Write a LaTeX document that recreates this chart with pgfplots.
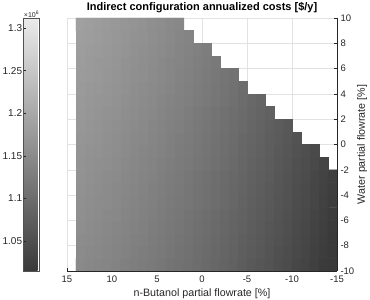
\documentclass[border=0pt]{standalone}
\usepackage{fontspec}
\setmainfont{Liberation Sans}
\usepackage{pgfplots}
\pgfplotsset{compat=1.18}
\definecolor{axisdark}{RGB}{38,38,38}
\definecolor{gridgray}{RGB}{226,226,226}
\begin{document}
\begin{tikzpicture}
\useasboundingbox (-67pt,-29pt) rectangle (303pt,271pt);
\begin{axis}[
  at={(0pt,0pt)}, anchor=south west,
  scale only axis, width=270pt, height=253pt,
  xmin=-15, xmax=15, ymin=-10, ymax=10,
  x dir=reverse,
  axis x line*=bottom, axis y line*=right,
  axis line style={axisdark, line width=0.5pt},
  xtick={-15,-10,...,15}, ytick={-10,-8,...,10},
  tick align=inside, major tick length=3pt,
  tick style={axisdark, line width=0.5pt},
  grid=major, major grid style={gridgray, line width=0.5pt},
  /pgf/number format/assume math mode=true,
  tick label style={font=\fontsize{9.5}{11}\selectfont, text=axisdark},
  xticklabel style={yshift=-1.5pt},
  xlabel={n-Butanol partial flowrate [\%]},
  ylabel={Water partial flowrate [\%]},
  label style={font=\fontsize{10.7}{12}\selectfont, text=axisdark},
  xlabel style={at={(axis description cs:0.5,0)}, anchor=center, yshift=-23pt},
  ylabel style={at={(axis description cs:1,0.5)}, anchor=center, yshift=-25pt},
  every axis title shift=0pt,
  title={Indirect configuration annualized costs [\$/y]},
  title style={font=\bfseries\fontsize{11}{13}\selectfont,
    at={(axis description cs:0.5,1)}, anchor=center, yshift=10pt},
  colormap={costgray}{rgb255=(58,58,58) rgb255=(235,235,235)},
  point meta min=1.0145, point meta max=1.312,
  colorbar left,
  colorbar shift/.style={},
  colorbar style={
    at={(parent axis.north west)}, anchor=north east, xshift=-28pt,
    width=15.7pt,
    ytick={1.05,1.1,1.15,1.2,1.25,1.3},
    yticklabels={1.05,1.1,1.15,1.2,1.25,1.3},
    yticklabel pos=left, ytick pos=left,
    tick align=inside, major tick length=2.5pt,
    axis line style={axisdark!80, line width=0.5pt},
    tick style={axisdark, line width=0.5pt},
    tick label style={font=\fontsize{10}{12}\selectfont, text=axisdark},
    yticklabel style={inner sep=1pt},
    scaled y ticks=false,
    extra description/.code={
      \node[anchor=south west, inner sep=0.5pt, font=\fontsize{7}{8}\selectfont, text=axisdark]
        at (rel axis cs:0,1) {×10\textsuperscript{6}};
    },
  },
]
% annualized cost (millions of $/y) on the 1 % x 1 % grid; nan = infeasible point
\addplot[matrix plot*, mesh/cols=30, point meta=explicit, unbounded coords=jump]
table[row sep=\\, meta=z]{
x y z\\
14.5 -9.5 nan\\ 13.5 -9.5 1.148\\ 12.5 -9.5 1.145\\ 11.5 -9.5 1.142\\ 10.5 -9.5 1.139\\ 9.5 -9.5 1.136\\ 8.5 -9.5 1.132\\ 7.5 -9.5 1.128\\ 6.5 -9.5 1.125\\ 5.5 -9.5 1.121\\ 4.5 -9.5 1.117\\ 3.5 -9.5 1.112\\ 2.5 -9.5 1.108\\ 1.5 -9.5 1.104\\ 0.5 -9.5 1.099\\ -0.5 -9.5 1.094\\ -1.5 -9.5 1.089\\ -2.5 -9.5 1.084\\ -3.5 -9.5 1.079\\ -4.5 -9.5 1.073\\ -5.5 -9.5 1.067\\ -6.5 -9.5 1.062\\ -7.5 -9.5 1.056\\ -8.5 -9.5 1.050\\ -9.5 -9.5 1.044\\ -10.5 -9.5 1.037\\ -11.5 -9.5 1.031\\ -12.5 -9.5 1.024\\ -13.5 -9.5 1.017\\ -14.5 -9.5 1.010\\
14.5 -8.5 nan\\ 13.5 -8.5 1.150\\ 12.5 -8.5 1.147\\ 11.5 -8.5 1.144\\ 10.5 -8.5 1.141\\ 9.5 -8.5 1.138\\ 8.5 -8.5 1.134\\ 7.5 -8.5 1.130\\ 6.5 -8.5 1.127\\ 5.5 -8.5 1.123\\ 4.5 -8.5 1.119\\ 3.5 -8.5 1.114\\ 2.5 -8.5 1.110\\ 1.5 -8.5 1.106\\ 0.5 -8.5 1.101\\ -0.5 -8.5 1.096\\ -1.5 -8.5 1.091\\ -2.5 -8.5 1.086\\ -3.5 -8.5 1.081\\ -4.5 -8.5 1.075\\ -5.5 -8.5 1.069\\ -6.5 -8.5 1.064\\ -7.5 -8.5 1.058\\ -8.5 -8.5 1.052\\ -9.5 -8.5 1.046\\ -10.5 -8.5 1.039\\ -11.5 -8.5 1.033\\ -12.5 -8.5 1.026\\ -13.5 -8.5 1.019\\ -14.5 -8.5 1.012\\
14.5 -7.5 nan\\ 13.5 -7.5 1.152\\ 12.5 -7.5 1.149\\ 11.5 -7.5 1.146\\ 10.5 -7.5 1.143\\ 9.5 -7.5 1.140\\ 8.5 -7.5 1.136\\ 7.5 -7.5 1.132\\ 6.5 -7.5 1.129\\ 5.5 -7.5 1.125\\ 4.5 -7.5 1.121\\ 3.5 -7.5 1.116\\ 2.5 -7.5 1.112\\ 1.5 -7.5 1.108\\ 0.5 -7.5 1.103\\ -0.5 -7.5 1.098\\ -1.5 -7.5 1.093\\ -2.5 -7.5 1.088\\ -3.5 -7.5 1.083\\ -4.5 -7.5 1.077\\ -5.5 -7.5 1.071\\ -6.5 -7.5 1.066\\ -7.5 -7.5 1.060\\ -8.5 -7.5 1.054\\ -9.5 -7.5 1.048\\ -10.5 -7.5 1.041\\ -11.5 -7.5 1.035\\ -12.5 -7.5 1.028\\ -13.5 -7.5 1.021\\ -14.5 -7.5 1.014\\
14.5 -6.5 nan\\ 13.5 -6.5 1.154\\ 12.5 -6.5 1.151\\ 11.5 -6.5 1.148\\ 10.5 -6.5 1.145\\ 9.5 -6.5 1.142\\ 8.5 -6.5 1.138\\ 7.5 -6.5 1.134\\ 6.5 -6.5 1.131\\ 5.5 -6.5 1.127\\ 4.5 -6.5 1.123\\ 3.5 -6.5 1.118\\ 2.5 -6.5 1.114\\ 1.5 -6.5 1.110\\ 0.5 -6.5 1.105\\ -0.5 -6.5 1.100\\ -1.5 -6.5 1.095\\ -2.5 -6.5 1.090\\ -3.5 -6.5 1.085\\ -4.5 -6.5 1.079\\ -5.5 -6.5 1.073\\ -6.5 -6.5 1.068\\ -7.5 -6.5 1.062\\ -8.5 -6.5 1.056\\ -9.5 -6.5 1.050\\ -10.5 -6.5 1.043\\ -11.5 -6.5 1.037\\ -12.5 -6.5 1.030\\ -13.5 -6.5 1.023\\ -14.5 -6.5 1.016\\
14.5 -5.5 nan\\ 13.5 -5.5 1.156\\ 12.5 -5.5 1.153\\ 11.5 -5.5 1.150\\ 10.5 -5.5 1.147\\ 9.5 -5.5 1.144\\ 8.5 -5.5 1.140\\ 7.5 -5.5 1.136\\ 6.5 -5.5 1.133\\ 5.5 -5.5 1.129\\ 4.5 -5.5 1.125\\ 3.5 -5.5 1.120\\ 2.5 -5.5 1.116\\ 1.5 -5.5 1.112\\ 0.5 -5.5 1.107\\ -0.5 -5.5 1.102\\ -1.5 -5.5 1.097\\ -2.5 -5.5 1.092\\ -3.5 -5.5 1.087\\ -4.5 -5.5 1.081\\ -5.5 -5.5 1.075\\ -6.5 -5.5 1.070\\ -7.5 -5.5 1.064\\ -8.5 -5.5 1.058\\ -9.5 -5.5 1.052\\ -10.5 -5.5 1.045\\ -11.5 -5.5 1.039\\ -12.5 -5.5 1.032\\ -13.5 -5.5 1.025\\ -14.5 -5.5 1.018\\
14.5 -4.5 nan\\ 13.5 -4.5 1.158\\ 12.5 -4.5 1.155\\ 11.5 -4.5 1.152\\ 10.5 -4.5 1.149\\ 9.5 -4.5 1.146\\ 8.5 -4.5 1.142\\ 7.5 -4.5 1.138\\ 6.5 -4.5 1.135\\ 5.5 -4.5 1.131\\ 4.5 -4.5 1.127\\ 3.5 -4.5 1.122\\ 2.5 -4.5 1.118\\ 1.5 -4.5 1.114\\ 0.5 -4.5 1.109\\ -0.5 -4.5 1.104\\ -1.5 -4.5 1.099\\ -2.5 -4.5 1.094\\ -3.5 -4.5 1.089\\ -4.5 -4.5 1.083\\ -5.5 -4.5 1.077\\ -6.5 -4.5 1.072\\ -7.5 -4.5 1.066\\ -8.5 -4.5 1.060\\ -9.5 -4.5 1.054\\ -10.5 -4.5 1.047\\ -11.5 -4.5 1.041\\ -12.5 -4.5 1.034\\ -13.5 -4.5 1.027\\ -14.5 -4.5 1.020\\
14.5 -3.5 nan\\ 13.5 -3.5 1.159\\ 12.5 -3.5 1.156\\ 11.5 -3.5 1.153\\ 10.5 -3.5 1.150\\ 9.5 -3.5 1.147\\ 8.5 -3.5 1.143\\ 7.5 -3.5 1.139\\ 6.5 -3.5 1.136\\ 5.5 -3.5 1.132\\ 4.5 -3.5 1.128\\ 3.5 -3.5 1.123\\ 2.5 -3.5 1.119\\ 1.5 -3.5 1.115\\ 0.5 -3.5 1.110\\ -0.5 -3.5 1.105\\ -1.5 -3.5 1.100\\ -2.5 -3.5 1.095\\ -3.5 -3.5 1.090\\ -4.5 -3.5 1.084\\ -5.5 -3.5 1.078\\ -6.5 -3.5 1.073\\ -7.5 -3.5 1.067\\ -8.5 -3.5 1.061\\ -9.5 -3.5 1.055\\ -10.5 -3.5 1.048\\ -11.5 -3.5 1.042\\ -12.5 -3.5 1.035\\ -13.5 -3.5 1.028\\ -14.5 -3.5 1.021\\
14.5 -2.5 nan\\ 13.5 -2.5 1.161\\ 12.5 -2.5 1.158\\ 11.5 -2.5 1.155\\ 10.5 -2.5 1.152\\ 9.5 -2.5 1.149\\ 8.5 -2.5 1.145\\ 7.5 -2.5 1.141\\ 6.5 -2.5 1.138\\ 5.5 -2.5 1.134\\ 4.5 -2.5 1.130\\ 3.5 -2.5 1.125\\ 2.5 -2.5 1.121\\ 1.5 -2.5 1.117\\ 0.5 -2.5 1.112\\ -0.5 -2.5 1.107\\ -1.5 -2.5 1.102\\ -2.5 -2.5 1.097\\ -3.5 -2.5 1.092\\ -4.5 -2.5 1.086\\ -5.5 -2.5 1.080\\ -6.5 -2.5 1.075\\ -7.5 -2.5 1.069\\ -8.5 -2.5 1.063\\ -9.5 -2.5 1.057\\ -10.5 -2.5 1.050\\ -11.5 -2.5 1.044\\ -12.5 -2.5 1.037\\ -13.5 -2.5 1.030\\ -14.5 -2.5 1.023\\
14.5 -1.5 nan\\ 13.5 -1.5 1.163\\ 12.5 -1.5 1.160\\ 11.5 -1.5 1.157\\ 10.5 -1.5 1.154\\ 9.5 -1.5 1.151\\ 8.5 -1.5 1.147\\ 7.5 -1.5 1.143\\ 6.5 -1.5 1.140\\ 5.5 -1.5 1.136\\ 4.5 -1.5 1.132\\ 3.5 -1.5 1.127\\ 2.5 -1.5 1.123\\ 1.5 -1.5 1.119\\ 0.5 -1.5 1.114\\ -0.5 -1.5 1.109\\ -1.5 -1.5 1.104\\ -2.5 -1.5 1.099\\ -3.5 -1.5 1.094\\ -4.5 -1.5 1.088\\ -5.5 -1.5 1.082\\ -6.5 -1.5 1.077\\ -7.5 -1.5 1.071\\ -8.5 -1.5 1.065\\ -9.5 -1.5 1.059\\ -10.5 -1.5 1.052\\ -11.5 -1.5 1.046\\ -12.5 -1.5 1.039\\ -13.5 -1.5 1.032\\ -14.5 -1.5 nan\\
14.5 -0.5 nan\\ 13.5 -0.5 1.165\\ 12.5 -0.5 1.162\\ 11.5 -0.5 1.159\\ 10.5 -0.5 1.156\\ 9.5 -0.5 1.153\\ 8.5 -0.5 1.149\\ 7.5 -0.5 1.145\\ 6.5 -0.5 1.142\\ 5.5 -0.5 1.138\\ 4.5 -0.5 1.134\\ 3.5 -0.5 1.129\\ 2.5 -0.5 1.125\\ 1.5 -0.5 1.121\\ 0.5 -0.5 1.116\\ -0.5 -0.5 1.111\\ -1.5 -0.5 1.106\\ -2.5 -0.5 1.101\\ -3.5 -0.5 1.096\\ -4.5 -0.5 1.090\\ -5.5 -0.5 1.084\\ -6.5 -0.5 1.079\\ -7.5 -0.5 1.073\\ -8.5 -0.5 1.067\\ -9.5 -0.5 1.061\\ -10.5 -0.5 1.054\\ -11.5 -0.5 1.048\\ -12.5 -0.5 1.041\\ -13.5 -0.5 nan\\ -14.5 -0.5 nan\\
14.5 0.5 nan\\ 13.5 0.5 1.167\\ 12.5 0.5 1.164\\ 11.5 0.5 1.161\\ 10.5 0.5 1.158\\ 9.5 0.5 1.155\\ 8.5 0.5 1.151\\ 7.5 0.5 1.147\\ 6.5 0.5 1.144\\ 5.5 0.5 1.140\\ 4.5 0.5 1.136\\ 3.5 0.5 1.131\\ 2.5 0.5 1.127\\ 1.5 0.5 1.123\\ 0.5 0.5 1.118\\ -0.5 0.5 1.113\\ -1.5 0.5 1.108\\ -2.5 0.5 1.103\\ -3.5 0.5 1.098\\ -4.5 0.5 1.092\\ -5.5 0.5 1.086\\ -6.5 0.5 1.081\\ -7.5 0.5 1.075\\ -8.5 0.5 1.069\\ -9.5 0.5 1.063\\ -10.5 0.5 1.056\\ -11.5 0.5 nan\\ -12.5 0.5 nan\\ -13.5 0.5 nan\\ -14.5 0.5 nan\\
14.5 1.5 nan\\ 13.5 1.5 1.169\\ 12.5 1.5 1.166\\ 11.5 1.5 1.163\\ 10.5 1.5 1.160\\ 9.5 1.5 1.157\\ 8.5 1.5 1.153\\ 7.5 1.5 1.149\\ 6.5 1.5 1.146\\ 5.5 1.5 1.142\\ 4.5 1.5 1.138\\ 3.5 1.5 1.133\\ 2.5 1.5 1.129\\ 1.5 1.5 1.125\\ 0.5 1.5 1.120\\ -0.5 1.5 1.115\\ -1.5 1.5 1.110\\ -2.5 1.5 1.105\\ -3.5 1.5 1.100\\ -4.5 1.5 1.094\\ -5.5 1.5 1.088\\ -6.5 1.5 1.083\\ -7.5 1.5 1.077\\ -8.5 1.5 1.071\\ -9.5 1.5 1.065\\ -10.5 1.5 nan\\ -11.5 1.5 nan\\ -12.5 1.5 nan\\ -13.5 1.5 nan\\ -14.5 1.5 nan\\
14.5 2.5 nan\\ 13.5 2.5 1.171\\ 12.5 2.5 1.168\\ 11.5 2.5 1.165\\ 10.5 2.5 1.162\\ 9.5 2.5 1.159\\ 8.5 2.5 1.155\\ 7.5 2.5 1.151\\ 6.5 2.5 1.148\\ 5.5 2.5 1.144\\ 4.5 2.5 1.140\\ 3.5 2.5 1.135\\ 2.5 2.5 1.131\\ 1.5 2.5 1.127\\ 0.5 2.5 1.122\\ -0.5 2.5 1.117\\ -1.5 2.5 1.112\\ -2.5 2.5 1.107\\ -3.5 2.5 1.102\\ -4.5 2.5 1.096\\ -5.5 2.5 1.090\\ -6.5 2.5 1.085\\ -7.5 2.5 1.079\\ -8.5 2.5 nan\\ -9.5 2.5 nan\\ -10.5 2.5 nan\\ -11.5 2.5 nan\\ -12.5 2.5 nan\\ -13.5 2.5 nan\\ -14.5 2.5 nan\\
14.5 3.5 nan\\ 13.5 3.5 1.173\\ 12.5 3.5 1.170\\ 11.5 3.5 1.167\\ 10.5 3.5 1.164\\ 9.5 3.5 1.161\\ 8.5 3.5 1.157\\ 7.5 3.5 1.153\\ 6.5 3.5 1.150\\ 5.5 3.5 1.146\\ 4.5 3.5 1.142\\ 3.5 3.5 1.137\\ 2.5 3.5 1.133\\ 1.5 3.5 1.129\\ 0.5 3.5 1.124\\ -0.5 3.5 1.119\\ -1.5 3.5 1.114\\ -2.5 3.5 1.109\\ -3.5 3.5 1.104\\ -4.5 3.5 1.098\\ -5.5 3.5 1.092\\ -6.5 3.5 1.087\\ -7.5 3.5 nan\\ -8.5 3.5 nan\\ -9.5 3.5 nan\\ -10.5 3.5 nan\\ -11.5 3.5 nan\\ -12.5 3.5 nan\\ -13.5 3.5 nan\\ -14.5 3.5 nan\\
14.5 4.5 nan\\ 13.5 4.5 1.175\\ 12.5 4.5 1.172\\ 11.5 4.5 1.169\\ 10.5 4.5 1.166\\ 9.5 4.5 1.163\\ 8.5 4.5 1.159\\ 7.5 4.5 1.155\\ 6.5 4.5 1.152\\ 5.5 4.5 1.148\\ 4.5 4.5 1.144\\ 3.5 4.5 1.139\\ 2.5 4.5 1.135\\ 1.5 4.5 1.131\\ 0.5 4.5 1.126\\ -0.5 4.5 1.121\\ -1.5 4.5 1.116\\ -2.5 4.5 1.111\\ -3.5 4.5 1.106\\ -4.5 4.5 1.100\\ -5.5 4.5 nan\\ -6.5 4.5 nan\\ -7.5 4.5 nan\\ -8.5 4.5 nan\\ -9.5 4.5 nan\\ -10.5 4.5 nan\\ -11.5 4.5 nan\\ -12.5 4.5 nan\\ -13.5 4.5 nan\\ -14.5 4.5 nan\\
14.5 5.5 nan\\ 13.5 5.5 1.177\\ 12.5 5.5 1.174\\ 11.5 5.5 1.171\\ 10.5 5.5 1.168\\ 9.5 5.5 1.165\\ 8.5 5.5 1.161\\ 7.5 5.5 1.157\\ 6.5 5.5 1.154\\ 5.5 5.5 1.150\\ 4.5 5.5 1.146\\ 3.5 5.5 1.141\\ 2.5 5.5 1.137\\ 1.5 5.5 1.133\\ 0.5 5.5 1.128\\ -0.5 5.5 1.123\\ -1.5 5.5 1.118\\ -2.5 5.5 1.113\\ -3.5 5.5 1.108\\ -4.5 5.5 nan\\ -5.5 5.5 nan\\ -6.5 5.5 nan\\ -7.5 5.5 nan\\ -8.5 5.5 nan\\ -9.5 5.5 nan\\ -10.5 5.5 nan\\ -11.5 5.5 nan\\ -12.5 5.5 nan\\ -13.5 5.5 nan\\ -14.5 5.5 nan\\
14.5 6.5 nan\\ 13.5 6.5 1.178\\ 12.5 6.5 1.175\\ 11.5 6.5 1.172\\ 10.5 6.5 1.169\\ 9.5 6.5 1.166\\ 8.5 6.5 1.162\\ 7.5 6.5 1.158\\ 6.5 6.5 1.155\\ 5.5 6.5 1.151\\ 4.5 6.5 1.147\\ 3.5 6.5 1.142\\ 2.5 6.5 1.138\\ 1.5 6.5 1.134\\ 0.5 6.5 1.129\\ -0.5 6.5 1.124\\ -1.5 6.5 1.119\\ -2.5 6.5 nan\\ -3.5 6.5 nan\\ -4.5 6.5 nan\\ -5.5 6.5 nan\\ -6.5 6.5 nan\\ -7.5 6.5 nan\\ -8.5 6.5 nan\\ -9.5 6.5 nan\\ -10.5 6.5 nan\\ -11.5 6.5 nan\\ -12.5 6.5 nan\\ -13.5 6.5 nan\\ -14.5 6.5 nan\\
14.5 7.5 nan\\ 13.5 7.5 1.180\\ 12.5 7.5 1.177\\ 11.5 7.5 1.174\\ 10.5 7.5 1.171\\ 9.5 7.5 1.168\\ 8.5 7.5 1.164\\ 7.5 7.5 1.160\\ 6.5 7.5 1.157\\ 5.5 7.5 1.153\\ 4.5 7.5 1.149\\ 3.5 7.5 1.144\\ 2.5 7.5 1.140\\ 1.5 7.5 1.136\\ 0.5 7.5 1.131\\ -0.5 7.5 1.126\\ -1.5 7.5 nan\\ -2.5 7.5 nan\\ -3.5 7.5 nan\\ -4.5 7.5 nan\\ -5.5 7.5 nan\\ -6.5 7.5 nan\\ -7.5 7.5 nan\\ -8.5 7.5 nan\\ -9.5 7.5 nan\\ -10.5 7.5 nan\\ -11.5 7.5 nan\\ -12.5 7.5 nan\\ -13.5 7.5 nan\\ -14.5 7.5 nan\\
14.5 8.5 nan\\ 13.5 8.5 1.182\\ 12.5 8.5 1.179\\ 11.5 8.5 1.176\\ 10.5 8.5 1.173\\ 9.5 8.5 1.170\\ 8.5 8.5 1.166\\ 7.5 8.5 1.162\\ 6.5 8.5 1.159\\ 5.5 8.5 1.155\\ 4.5 8.5 1.151\\ 3.5 8.5 1.146\\ 2.5 8.5 1.142\\ 1.5 8.5 1.138\\ 0.5 8.5 nan\\ -0.5 8.5 nan\\ -1.5 8.5 nan\\ -2.5 8.5 nan\\ -3.5 8.5 nan\\ -4.5 8.5 nan\\ -5.5 8.5 nan\\ -6.5 8.5 nan\\ -7.5 8.5 nan\\ -8.5 8.5 nan\\ -9.5 8.5 nan\\ -10.5 8.5 nan\\ -11.5 8.5 nan\\ -12.5 8.5 nan\\ -13.5 8.5 nan\\ -14.5 8.5 nan\\
14.5 9.5 nan\\ 13.5 9.5 1.184\\ 12.5 9.5 1.181\\ 11.5 9.5 1.178\\ 10.5 9.5 1.175\\ 9.5 9.5 1.172\\ 8.5 9.5 1.168\\ 7.5 9.5 1.164\\ 6.5 9.5 1.161\\ 5.5 9.5 1.157\\ 4.5 9.5 1.153\\ 3.5 9.5 1.148\\ 2.5 9.5 1.144\\ 1.5 9.5 nan\\ 0.5 9.5 nan\\ -0.5 9.5 nan\\ -1.5 9.5 nan\\ -2.5 9.5 nan\\ -3.5 9.5 nan\\ -4.5 9.5 nan\\ -5.5 9.5 nan\\ -6.5 9.5 nan\\ -7.5 9.5 nan\\ -8.5 9.5 nan\\ -9.5 9.5 nan\\ -10.5 9.5 nan\\ -11.5 9.5 nan\\ -12.5 9.5 nan\\ -13.5 9.5 nan\\ -14.5 9.5 nan\\
};
\end{axis}
\end{tikzpicture}
\end{document}
